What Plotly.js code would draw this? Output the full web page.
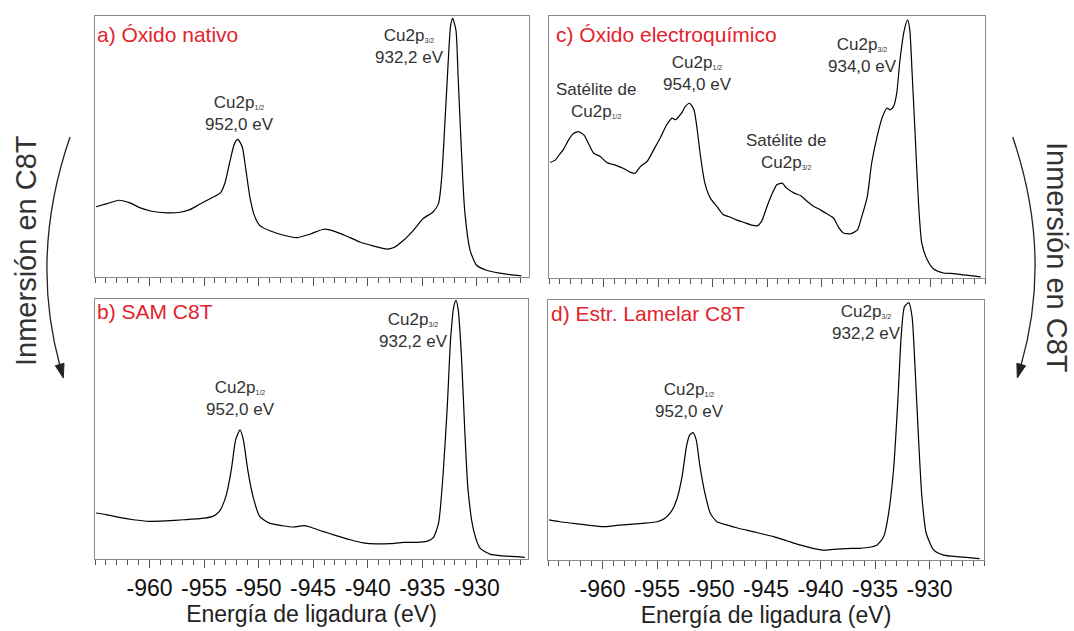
<!DOCTYPE html>
<html>
<head>
<meta charset="utf-8">
<script src="https://cdn.plot.ly/plotly-3.0.1.min.js"></script>
<style>html,body{margin:0;padding:0;background:#fff;}#chart{width:1074px;height:631px;}</style>
</head>
<body>
<div id="chart"></div>
<script>
// ---- Data (binding energy in eV, intensity normalised 0-100) ----
const aE = [-964.9,-963.9,-962.8,-961.8,-960.9,-959.8,-958.4,-957.2,-956.3,-955.4,-954.4,-953.5,-953.1,-952.6,-952.2,-951.9,-951.5,-951.2,-950.8,-950.4,-949.9,-948.9,-947.7,-946.5,-945.3,-944.0,-943.1,-941.9,-940.7,-939.5,-938.2,-937.6,-936.7,-935.8,-934.9,-934.0,-933.5,-933.2,-932.9,-932.6,-932.4,-932.2,-931.9,-931.7,-931.4,-931.1,-930.6,-930.0,-929.1,-927.9,-926.9,-925.9];
const aI = [26.9,28.1,29.4,28.4,26.6,25.2,24.6,24.8,25.8,27.9,30.1,32.2,35.8,44.8,51.2,52.7,49.9,42.2,30.7,23.7,19.8,17.6,16.0,15.1,16.4,18.3,17.6,15.6,13.4,11.9,10.7,11.3,14.1,17.9,22.4,24.9,28.1,38.4,60.1,83.1,95.9,99.1,94.6,76.7,48.6,25.6,10.2,4.5,2.6,1.5,0.9,0.4];

const bE = [-964.9,-964.0,-962.8,-961.5,-960.0,-958.5,-956.9,-955.4,-954.2,-953.6,-953.0,-952.5,-952.1,-951.7,-951.4,-951.0,-950.5,-949.9,-949.0,-947.8,-946.8,-945.9,-945.3,-944.1,-942.9,-941.6,-940.4,-939.2,-938.0,-936.7,-935.5,-934.6,-934.0,-933.5,-933.1,-932.7,-932.4,-932.1,-931.9,-931.7,-931.4,-931.1,-930.8,-930.3,-929.7,-928.8,-927.6,-926.3,-925.6];
const bI = [17.7,17.1,16.0,15.1,14.5,14.7,15.1,15.5,16.4,18.3,24.1,34.4,45.9,49.7,45.9,34.4,23.8,16.4,13.8,12.8,12.3,12.8,12.3,10.6,9.0,7.4,6.2,5.8,5.9,6.4,6.4,6.8,8.1,13.8,31.8,58.7,84.4,97.2,99.5,95.9,77.9,49.7,26.7,11.3,4.2,1.9,1.2,0.9,0.6];

const cE = [-964.9,-964.4,-964.1,-963.7,-963.2,-962.8,-962.3,-961.8,-961.4,-960.9,-960.3,-959.7,-958.8,-958.2,-957.5,-957.1,-956.6,-956.0,-955.4,-954.8,-954.2,-953.7,-953.4,-953.1,-952.8,-952.5,-952.1,-951.7,-951.4,-951.1,-950.7,-950.2,-949.6,-949.0,-948.4,-947.8,-947.1,-946.5,-945.9,-945.5,-945.0,-944.5,-944.1,-943.6,-943.2,-942.5,-941.9,-941.3,-940.7,-940.1,-939.5,-938.9,-938.4,-938.0,-937.3,-936.7,-936.3,-935.8,-935.4,-934.9,-934.4,-934.0,-933.7,-933.4,-933.1,-932.8,-932.4,-932.1,-931.9,-931.7,-931.4,-931.1,-930.8,-930.3,-929.7,-928.8,-927.9,-927.2,-926.3,-925.4];
const cI = [44.1,45.1,46.8,48.9,52.7,55.0,55.9,54.6,51.5,47.6,46.4,44.1,42.9,41.9,40.3,40.0,42.6,44.5,48.9,53.4,58.5,61.0,60.4,61.6,63.2,65.4,66.7,64.2,56.5,46.4,36.2,30.5,27.3,24.1,23.3,22.2,21.2,20.3,19.9,21.6,27.3,32.4,35.6,36.2,34.3,32.4,31.4,29.2,27.3,26.0,24.5,22.9,19.1,17.2,16.9,18.4,23.5,31.1,43.8,54.0,61.6,64.8,64.2,65.4,70.5,83.2,94.7,98.5,94.7,79.4,54.0,28.6,13.3,7.0,3.4,1.9,1.7,1.3,0.9,0.4];

const dE = [-964.9,-963.9,-962.7,-961.5,-959.9,-958.7,-957.5,-956.3,-955.0,-954.3,-953.7,-953.2,-952.7,-952.3,-952.0,-951.7,-951.4,-951.1,-950.6,-950.1,-949.5,-948.6,-947.7,-946.8,-945.6,-944.3,-943.1,-941.9,-940.7,-939.7,-938.8,-937.6,-936.4,-935.5,-934.8,-934.2,-933.8,-933.3,-932.9,-932.6,-932.3,-931.9,-931.6,-931.3,-931.0,-930.7,-930.3,-929.6,-928.7,-927.5,-926.3,-925.4];
const dI = [15.4,14.7,14.1,13.5,12.8,13.3,13.7,14.1,14.7,16.0,18.6,23.1,32.1,43.6,48.1,49.0,46.2,37.2,25.6,17.9,14.7,13.5,12.4,11.5,10.3,9.0,7.4,5.8,4.5,3.8,4.1,4.4,4.5,4.9,5.8,9.0,16.7,34.6,61.5,85.9,97.4,99.0,93.6,71.8,46.2,24.4,10.3,3.8,1.9,1.3,0.9,0.5];

const tickVals = [-960,-955,-950,-945,-940,-935,-930];
const tickText = ["-960","-955","-950","-945","-940","-935","-930"];
const panelLabels = ["a) Óxido nativo","b) SAM C8T","c) Óxido electroquímico","d) Estr. Lamelar C8T"];
const xTitle = "Energía de ligadura (eV)";
const sideText = "Inmersión en C8T";

// ---- helpers ----
const W = 1074, H = 631;
const FONT = "Liberation Sans, Arial, Helvetica, sans-serif";
const px = v => v / W;
const py = v => 1 - v / H;
const P = (x, y) => px(x).toFixed(5) + "," + py(y).toFixed(5);

function trace(x, y, n) {
  return {x: x, y: y, type: "scatter", mode: "lines",
    xaxis: "x" + (n === 1 ? "" : n), yaxis: "y" + (n === 1 ? "" : n),
    line: {color: "#000", width: 1.2, shape: "spline", smoothing: 0.6}, hoverinfo: "skip", showlegend: false};
}

function xax(domain, range, showLabels, anchor) {
  const ax = {domain: domain, range: range, anchor: anchor,
    showgrid: false, zeroline: false, showline: true, mirror: true,
    linecolor: "#8a8a8a", linewidth: 1,
    tickmode: "array", tickvals: tickVals, ticktext: tickText,
    ticks: "outside", ticklen: 8, tickwidth: 1, tickcolor: "#555",
    minor: {tickmode: "linear", tick0: 0, dtick: 1, ticks: "outside", ticklen: 5, tickwidth: 1, tickcolor: "#555"},
    showticklabels: showLabels,
    tickfont: {family: FONT, size: 23, color: "#111"}, fixedrange: true};
  if (showLabels) ax.title = {text: xTitle, font: {family: FONT, size: 23, color: "#222"}, standoff: 3};
  return ax;
}
function yax(domain, anchor) {
  return {domain: domain, range: [0, 100], anchor: anchor, showgrid: false, zeroline: false,
    showline: true, mirror: true, linecolor: "#8a8a8a", linewidth: 1,
    ticks: "", showticklabels: false, fixedrange: true};
}

const data = [trace(aE, aI, 1), trace(bE, bI, 2), trace(cE, cI, 3), trace(dE, dI, 4)];

const sub = s => "<span style=\"font-size:10px\"><sub>" + s + "</sub></span>";
const peakFont = {family: FONT, size: 17, color: "#333"};
function peak(n, x, y, text) {
  return {xref: "x" + (n === 1 ? "" : n), yref: "y" + (n === 1 ? "" : n), x: x, y: y,
    text: text, showarrow: false, font: peakFont, xanchor: "center", yanchor: "middle", align: "center"};
}
const red = {family: FONT, size: 21, color: "#e3232c"};
function plabel(i, x, y) {
  return {xref: "paper", yref: "paper", x: px(x), y: py(y), text: panelLabels[i], showarrow: false,
    font: red, xanchor: "left", yanchor: "middle"};
}

const annotations = [
  plabel(0, 95, 35), plabel(1, 95, 312), plabel(2, 554, 34), plabel(3, 549, 313),
  peak(1, -951.75, 62.8, "Cu2p" + sub("1/2") + "<br>952,0 eV"),
  peak(1, -936.2, 88.5, "Cu2p" + sub("3/2") + "<br>932,2 eV"),
  peak(2, -951.7, 61.9, "Cu2p" + sub("1/2") + "<br>952,0 eV"),
  peak(2, -935.8, 87.7, "Cu2p" + sub("3/2") + "<br>932,2 eV"),
  peak(3, -960.7, 67.9, "Satélite de<br>Cu2p" + sub("1/2")),
  peak(3, -951.4, 78.2, "Cu2p" + sub("1/2") + "<br>954,0 eV"),
  peak(3, -943.3, 48.1, "Satélite de<br>Cu2p" + sub("3/2")),
  peak(3, -936.2, 85.1, "Cu2p" + sub("3/2") + "<br>934,0 eV"),
  peak(4, -952.0, 61.5, "Cu2p" + sub("1/2") + "<br>952,0 eV"),
  peak(4, -935.8, 91.5, "Cu2p" + sub("3/2") + "<br>932,2 eV"),
  {xref: "paper", yref: "paper", x: px(26), y: py(251), text: sideText, textangle: -90, showarrow: false,
   font: {family: FONT, size: 29, color: "#333"}, xanchor: "center", yanchor: "middle"},
  {xref: "paper", yref: "paper", x: px(1057), y: py(257), text: sideText, textangle: 90, showarrow: false,
   font: {family: FONT, size: 29, color: "#333"}, xanchor: "center", yanchor: "middle"}
];

const shapes = [
  {type: "path", xref: "paper", yref: "paper", path: "M" + P(70, 137) + " Q" + P(29.5, 255) + " " + P(60, 366),
   line: {color: "#222", width: 1.3}},
  {type: "path", xref: "paper", yref: "paper", path: "M" + P(63.3, 378) + " L" + P(64.0, 363.3) + " L" + P(55.3, 365.7) + " Z",
   line: {color: "#222", width: 1}, fillcolor: "#222"},
  {type: "path", xref: "paper", yref: "paper", path: "M" + P(1012.7, 137) + " Q" + P(1053, 255) + " " + P(1020.8, 366),
   line: {color: "#222", width: 1.3}},
  {type: "path", xref: "paper", yref: "paper", path: "M" + P(1017.3, 378) + " L" + P(1025.5, 365.8) + " L" + P(1016.9, 363.3) + " Z",
   line: {color: "#222", width: 1}, fillcolor: "#222"}
];

const layout = {
  width: W, height: H, margin: {l: 0, r: 0, t: 0, b: 0},
  paper_bgcolor: "#fff", plot_bgcolor: "#fff", showlegend: false,
  font: {family: FONT},
  xaxis: xax([px(95), px(529)], [-965, -925.2], false, "y"),
  yaxis: yax([py(277), py(16)], "x"),
  xaxis2: xax([px(95), px(528)], [-965, -925.3], true, "y2"),
  yaxis2: yax([py(559), py(299)], "x2"),
  xaxis3: xax([px(549), px(985)], [-965, -925.0], false, "y3"),
  yaxis3: yax([py(278), py(16)], "x3"),
  xaxis4: xax([px(548), px(984)], [-965, -925.0], true, "y4"),
  yaxis4: yax([py(560), py(300)], "x4"),
  annotations: annotations,
  shapes: shapes
};

Plotly.newPlot("chart", data, layout, {staticPlot: true, displayModeBar: false});
</script>
</body>
</html>
